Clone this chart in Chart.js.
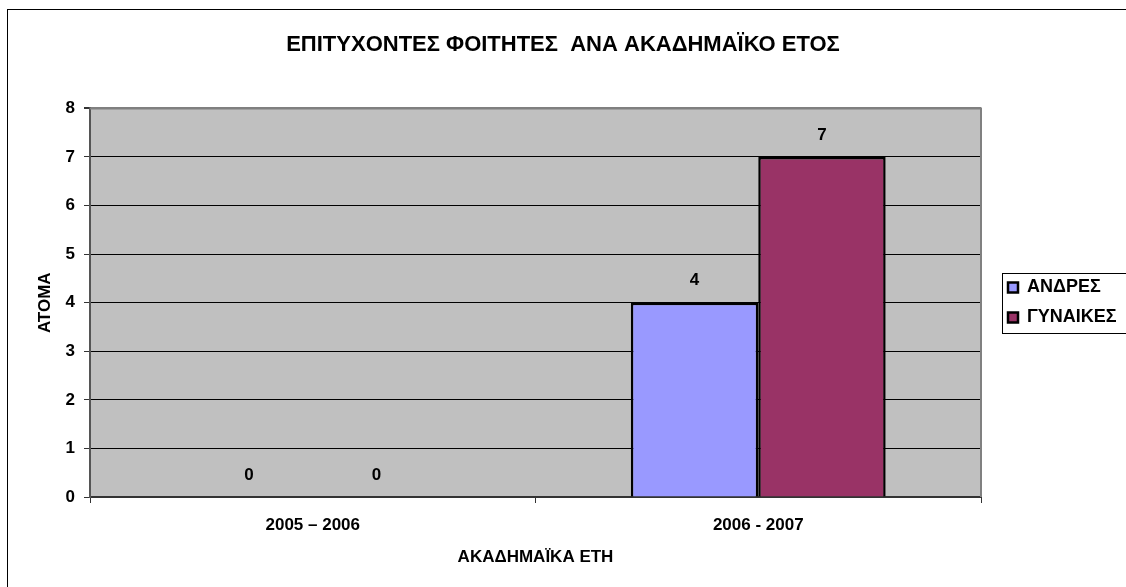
<!DOCTYPE html>
<html>
<head>
<meta charset="utf-8">
<script src="https://cdn.jsdelivr.net/npm/chart.js@4/dist/chart.umd.min.js"></script>
<style>
  html, body { margin: 0; padding: 0; background: #fff; }
  #wrap { width: 1126px; height: 587px; }
</style>
</head>
<body>
<div id="wrap"><canvas id="chart" width="1126" height="587"></canvas></div>
<script>
// data
const categories = ["2005 – 2006", "2006 - 2007"];
const seriesNames = ["ΑΝΔΡΕΣ", "ΓΥΝΑΙΚΕΣ"];
const men = [0, 4];
const women = [0, 7];
const yMin = 0, yMax = 8, yStep = 1;

const chartTitle = "ΕΠΙΤΥΧΟΝΤΕΣ ΦΟΙΤΗΤΕΣ  ΑΝΑ ΑΚΑΔΗΜΑΪΚΟ ΕΤΟΣ";
const xTitle = "ΑΚΑΔΗΜΑΪΚΑ ΕΤΗ";
const yTitle = "ΑΤΟΜΑ";

const FONT = "'Liberation Sans', Arial, sans-serif";

// grey plot area + outer frame + value labels + legend frame
const decor = {
  id: "decor",
  beforeLayout(chart) {
    const lg = chart.legend;
    if (lg && !lg._fixed) {
      const fit = lg.fit;
      lg.fit = function () { fit.call(this); this.width = 145; };
      lg._fixed = true;
    }
  },
  afterLayout(chart) {
    const lg = chart.legend;
    lg.left += 15;
    lg.right += 15;
    lg.top += 9;
    lg.bottom += 9;
  },
  beforeDraw(chart) {
    const { ctx, chartArea: a } = chart;
    ctx.save();
    ctx.fillStyle = "#fff";
    ctx.fillRect(0, 0, chart.width, chart.height);
    ctx.fillStyle = "#C0C0C0";
    ctx.fillRect(a.left, a.top, a.right - a.left, a.bottom - a.top);
    ctx.restore();
  },
  beforeDatasetsDraw(chart) {
    const { ctx, chartArea: a } = chart;
    ctx.save();
    ctx.strokeStyle = "#808080";
    ctx.lineWidth = 2;
    ctx.beginPath();
    ctx.moveTo(a.left, a.top);
    ctx.lineTo(a.right, a.top);
    ctx.lineTo(a.right, a.bottom);
    ctx.stroke();
    ctx.restore();
  },
  afterDatasetsDraw(chart) {
    const { ctx } = chart;
    ctx.save();
    ctx.font = "bold 17px " + FONT;
    ctx.fillStyle = "#000";
    ctx.textAlign = "center";
    ctx.textBaseline = "middle";
    chart.data.datasets.forEach((ds, i) => {
      chart.getDatasetMeta(i).data.forEach((bar, j) => {
        ctx.fillText(String(ds.data[j]), bar.x, bar.y - 22);
      });
    });
    ctx.restore();
  },
  afterDraw(chart) {
    const { ctx } = chart;
    ctx.save();
    ctx.strokeStyle = "#000";
    ctx.lineWidth = 1;
    // outer chart frame (cut off at right and bottom)
    ctx.strokeRect(7.5, 9.5, chart.width + 20, chart.height + 20);
    // legend frame
    const hb = chart.legend.legendHitBoxes;
    if (hb && hb.length) {
      const first = hb[0], last = hb[hb.length - 1];
      const top = Math.round(first.top - 6) + 0.5;
      const bottom = Math.round(last.top + last.height + 6) + 0.5;
      const left = Math.round(first.left - 6) + 0.5;
      ctx.strokeRect(left, top, 200, bottom - top);
    }
    ctx.restore();
  }
};

new Chart(document.getElementById("chart"), {
  type: "bar",
  data: {
    labels: categories,
    datasets: [
      {
        label: seriesNames[0],
        data: men,
        backgroundColor: "#9999FF",
        borderColor: "#000",
        borderWidth: 2.5
      },
      {
        label: seriesNames[1],
        data: women,
        backgroundColor: "#993366",
        borderColor: "#000",
        borderWidth: 2.5
      }
    ]
  },
  options: {
    responsive: false,
    animation: false,
    layout: { padding: { left: 0, right: 0, top: 0, bottom: 0 } },
    datasets: {
      bar: { categoryPercentage: 0.572, barPercentage: 1.0 }
    },
    plugins: {
      tooltip: { enabled: false },
      title: {
        display: true,
        text: chartTitle,
        color: "#000",
        font: { family: FONT, size: 22, weight: "bold" },
        padding: { top: 32, bottom: 50 }
      },
      legend: {
        position: "right",
        align: "center",
        labels: {
          color: "#000",
          font: { family: FONT, size: 18, weight: "bold" },
          boxWidth: 10,
          boxHeight: 10,
          padding: 12
        }
      }
    },
    scales: {
      x: {
        afterFit(s) { s.height = 90; },
        grid: {
          display: true,
          drawOnChartArea: false,
          drawTicks: true,
          tickLength: 6,
          color: "#333",
          offset: true
        },
        border: { display: true, color: "#333", width: 2 },
        ticks: {
          color: "#000",
          padding: 12,
          maxRotation: 0,
          font: { family: FONT, size: 17, weight: "bold" }
        },
        title: {
          display: true,
          text: xTitle,
          color: "#000",
          font: { family: FONT, size: 17, weight: "bold" },
          padding: { top: 0, bottom: 19 }
        }
      },
      y: {
        min: yMin,
        max: yMax,
        afterFit(s) { s.width = 90; },
        grid: {
          color: c => (c.tick && c.tick.value === yMax ? "#808080" : "#000"),
          lineWidth: c => (c.tick && c.tick.value === yMax ? 2 : 1),
          tickLength: 6,
          tickColor: "#333"
        },
        border: { display: true, color: "#555", width: 2 },
        ticks: {
          stepSize: yStep,
          color: "#000",
          padding: 9,
          font: { family: FONT, size: 17, weight: "bold" }
        },
        title: {
          display: true,
          text: yTitle,
          color: "#000",
          font: { family: FONT, size: 17, weight: "bold" },
          padding: { top: 35, bottom: 0 }
        }
      }
    }
  },
  plugins: [decor]
});
</script>
</body>
</html>
